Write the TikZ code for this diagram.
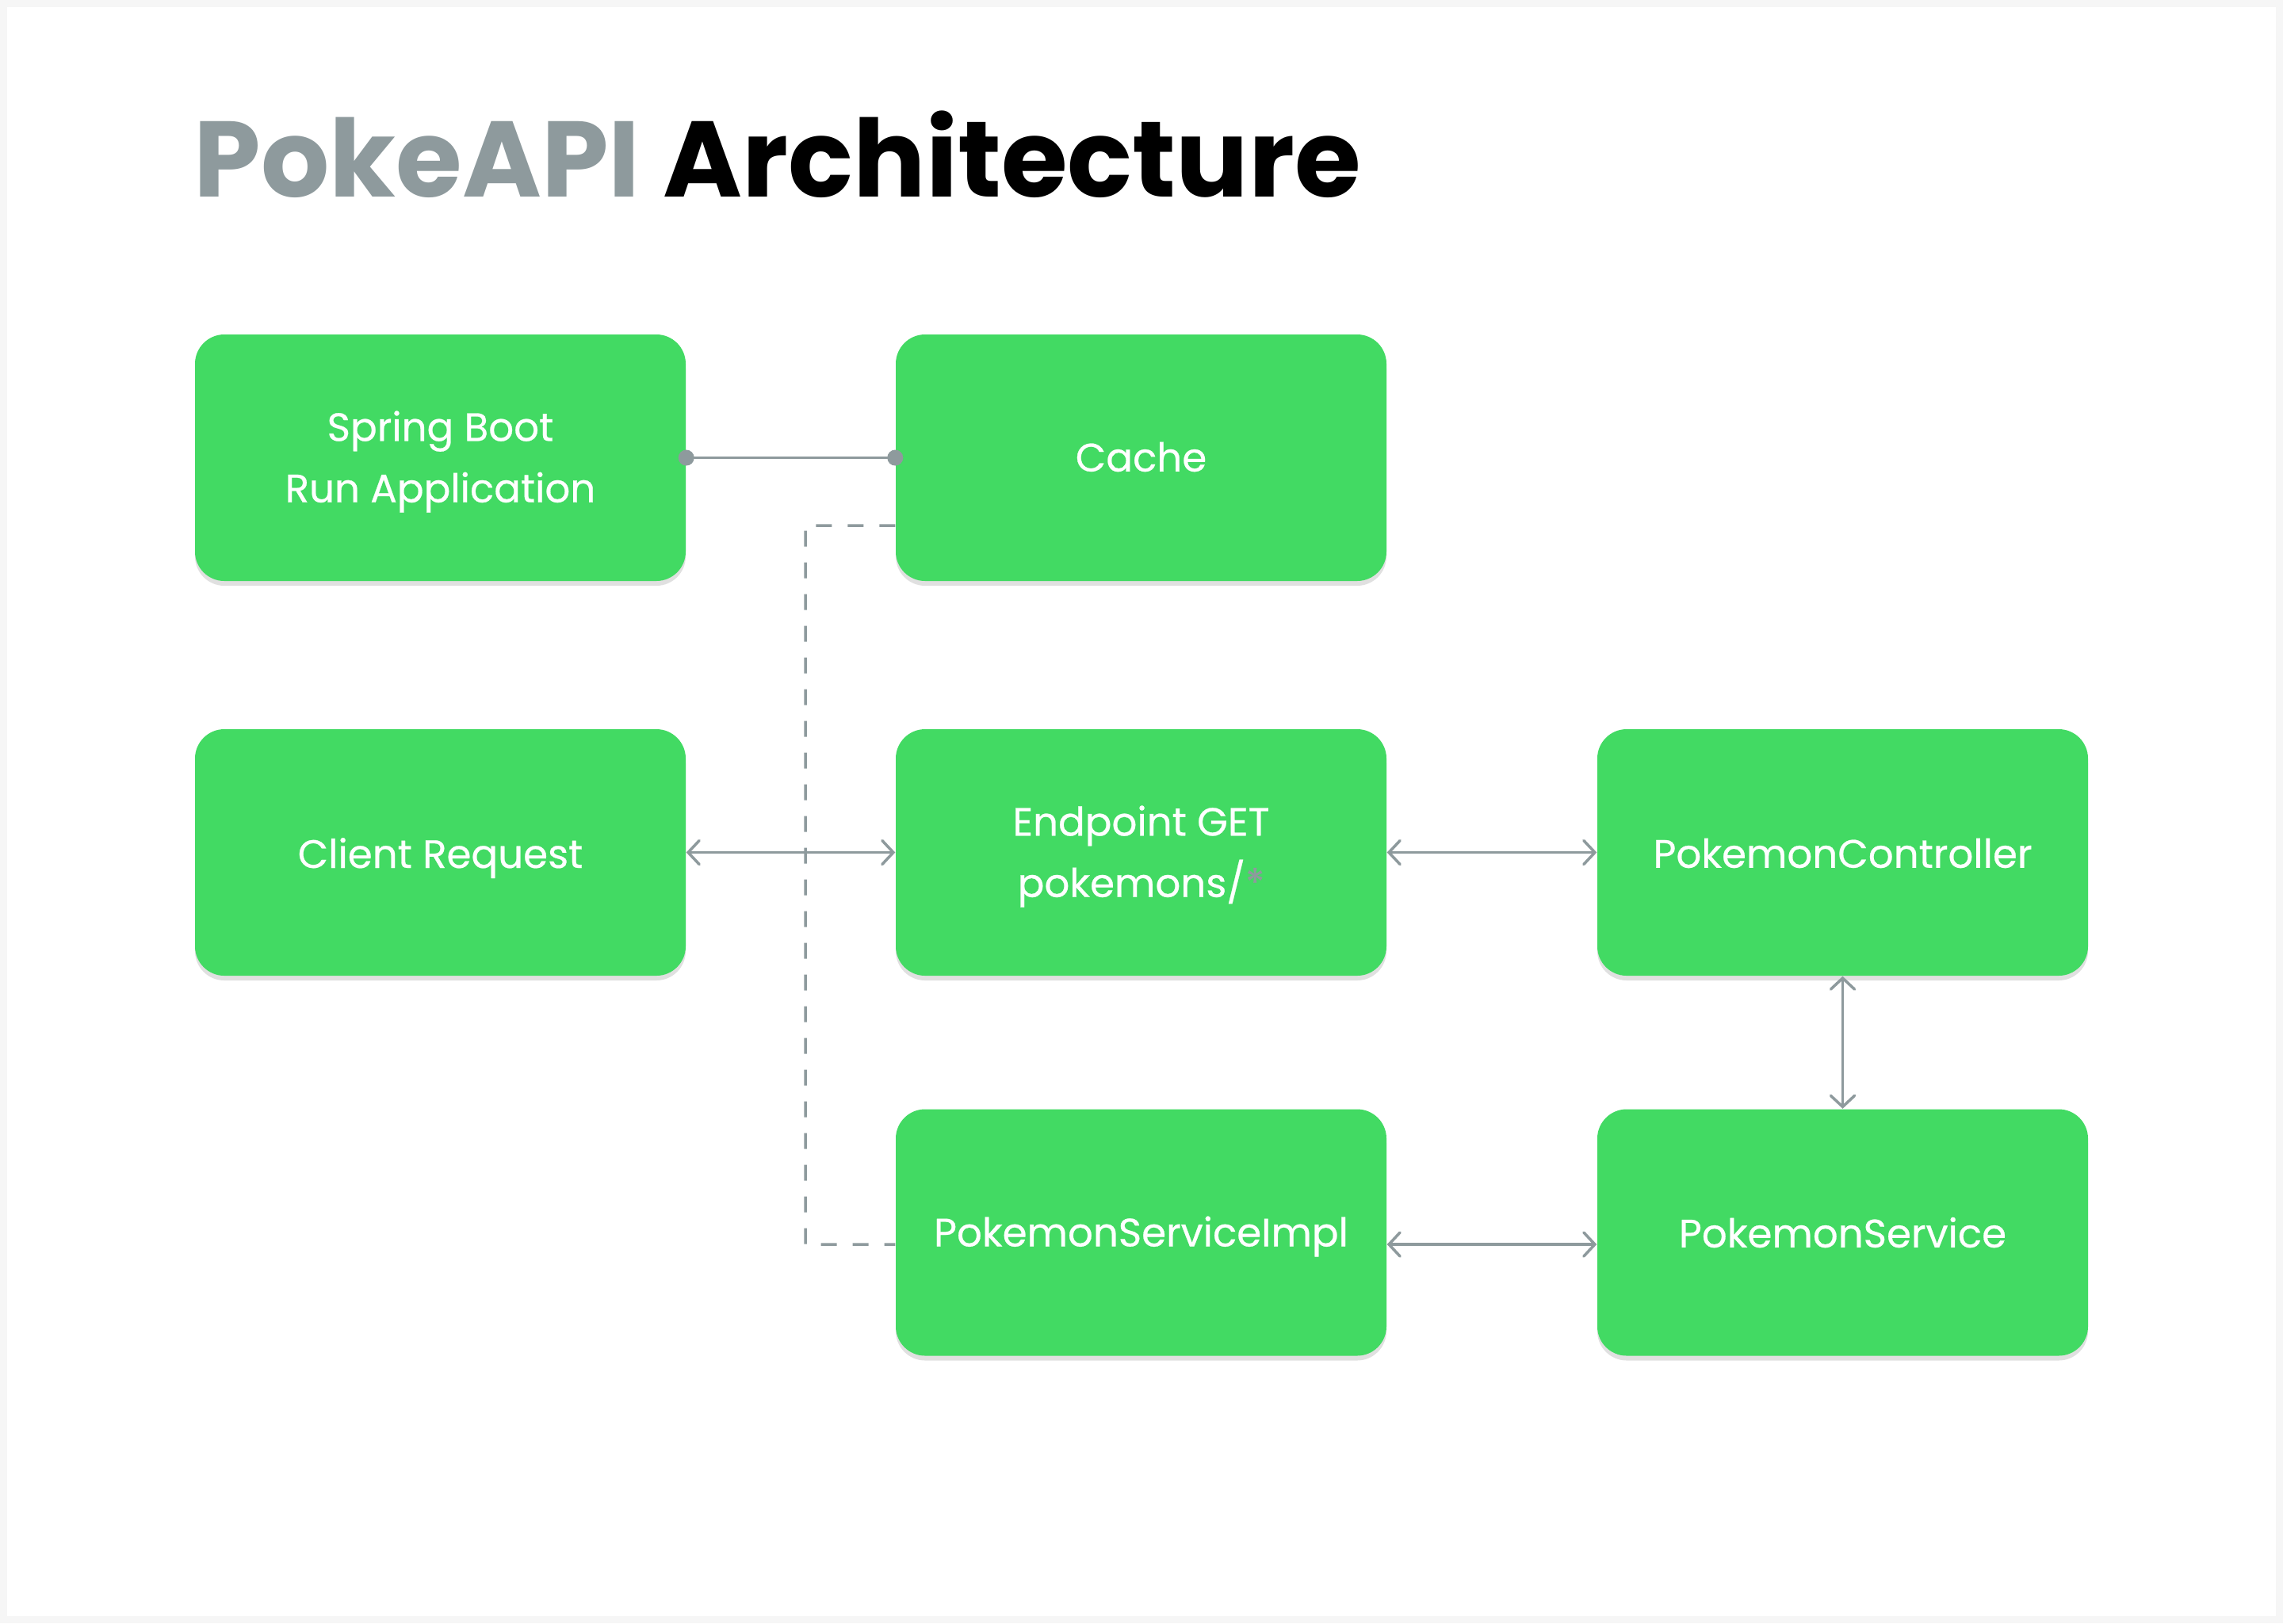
\documentclass[tikz,border=0pt]{standalone}
\usepackage{fontspec}
\setmainfont{Poppins}
\newfontfamily\medfont[FakeBold=0.5]{Poppins}
\usetikzlibrary{arrows.meta,shadows,calc}
\definecolor{boxgreen}{HTML}{42DA63}
\definecolor{linegray}{HTML}{8E9A9D}
\definecolor{framegray}{HTML}{F6F6F6}
\tikzset{
  box/.style={rectangle, rounded corners=0.37cm, fill=boxgreen,
    minimum width=6.19cm, minimum height=3.11cm, inner sep=0pt,
    drop shadow={shadow xshift=0cm, shadow yshift=-0.06cm, opacity=0.12, fill=black}},
  boxtext/.style={text=white, align=center, inner sep=0pt,
    font=\medfont\fontsize{14.2}{22}\selectfont},
  conn/.style={draw=linegray, line width=0.035cm},
  biarrow/.style={conn, {Straight Barb[length=0.14cm,width=0.3cm,line cap=round]}-{Straight Barb[length=0.14cm,width=0.3cm,line cap=round]}},
  dashconn/.style={conn, dash pattern=on 0.2cm off 0.2cm},
  dotend/.style={circle, fill=linegray, inner sep=0pt, minimum size=0.2cm}
}
\begin{document}
\begin{tikzpicture}
\useasboundingbox (0,0) rectangle (28.8,-20.48);
\fill[framegray] (0,0) rectangle (28.8,-20.48);
\fill[white] (0.09,-0.09) rectangle (28.71,-20.39);

\node[anchor=base west, inner sep=0pt, font=\fontsize{38.6}{46}\selectfont\bfseries] (title) at (2.44,-2.48)
  {\textcolor{linegray}{PokeAPI} Architecture};

\node[box] (sb) at (5.555,-5.775) {};
\node[box] (cache) at (14.395,-5.775) {};
\node[box] (client) at (5.555,-10.755) {};
\node[box] (endpoint) at (14.395,-10.755) {};
\node[box] (ctrl) at (23.245,-10.755) {};
\node[box] (impl) at (14.395,-15.55) {};
\node[box] (svc) at (23.245,-15.55) {};

\node[boxtext] (sbt) at ($(sb.center)+(0,-0.05)$) {Spring Boot\\Run Application};
\node[boxtext] (cachet) at ($(cache.center)+(0,0.01)$) {Cache};
\node[boxtext] (clientt) at ($(client.center)+(0,-0.07)$) {Client Request};
\node[boxtext] (endpointt) at ($(endpoint.center)+(0,-0.05)$) {Endpoint GET\\pokemons/\textcolor{linegray}{*}};
\node[boxtext] (ctrlt) at ($(ctrl.center)+(0,-0.01)$) {PokemonController};
\node[boxtext] (implt) at ($(impl.center)+(0,-0.05)$) {PokemonServiceImpl};
\node[boxtext] (svct) at ($(svc.center)+(0,0.0)$) {PokemonService};

% Spring Boot -- Cache with dots
\draw[conn] (sb.east) -- (cache.west);
\node[dotend] (d1) at (sb.east) {};
\node[dotend] (d2) at (cache.west) {};

% dashed Cache -> Impl
\coordinate (ca) at ($(cache.west)+(0,-0.855)$);
\coordinate (ia) at ($(impl.west)+(0,-0.15)$);
\draw[dashconn] (ca) -- (10.16,-6.63) -- (10.16,-15.70) -- (ia);

% arrows
\draw[biarrow] (client.east) -- (endpoint.west);
\draw[biarrow] (endpoint.east) -- (ctrl.west);
\draw[biarrow] (ctrl.south) -- (svc.north);
\draw[biarrow] ($(impl.east)+(0,-0.15)$) -- ($(svc.west)+(0,-0.15)$);
\end{tikzpicture}
\end{document}
